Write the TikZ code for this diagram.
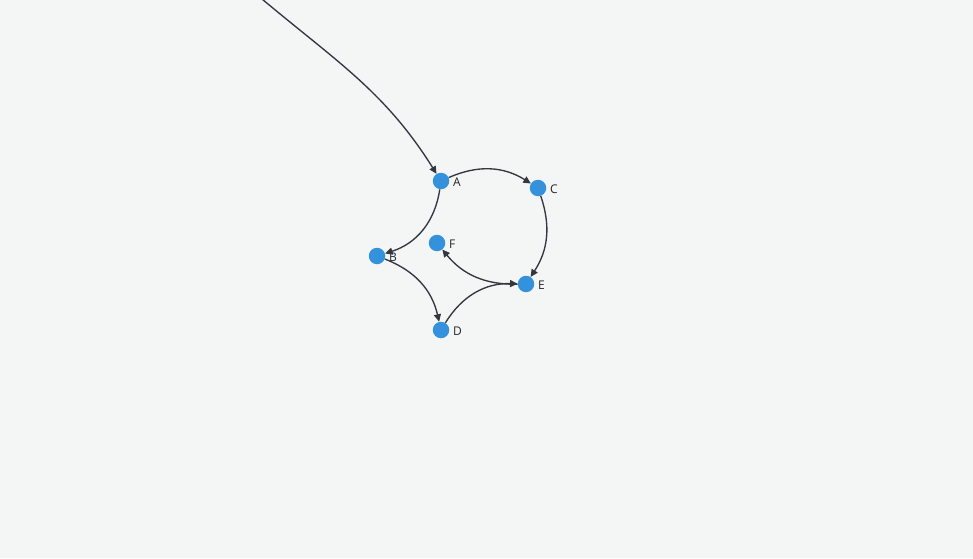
\documentclass[tikz,border=0pt]{standalone}
\usepackage{fontspec}
\setmainfont{Open Sans}
\usetikzlibrary{arrows.meta}
\definecolor{bgc}{RGB}{244,246,246}
\definecolor{nodec}{RGB}{52,146,220}
\definecolor{edgec}{RGB}{50,56,62}
\begin{document}
\begin{tikzpicture}[x=1pt,y=1pt,
  gnode/.style={circle,fill=nodec,draw=none,minimum size=16.5pt,inner sep=0pt},
  glabel/.style={font=\fontsize{12}{13}\selectfont,text=black!85,inner sep=0pt,label distance=3.5pt,yshift=-1.5pt},
  edge/.style={draw=edgec,line width=1.35pt,-{Triangle[length=7.5pt,width=7pt]}}]
\fill[bgc] (0,0) rectangle (973,558);
\useasboundingbox (0,0) rectangle (973,558);
\node[gnode,label={[glabel]right:A}] (A) at (441,377) {};
\node[gnode,label={[glabel]right:C}] (C) at (538,370) {};
\node[gnode,label={[glabel]right:B}] (B) at (377,302) {};
\node[gnode,label={[glabel]right:F}] (F) at (437,315) {};
\node[gnode,label={[glabel]right:E}] (E) at (526,274) {};
\node[gnode,label={[glabel]right:D}] (D) at (441,228) {};
\coordinate (S) at (262,559);
\draw[edge] (S) to[out=-40,in=122] (A);
\draw[edge] (A) to[bend left=28] (C);
\draw[edge] (C) to[bend left=26] (E);
\draw[edge] (A) to[bend left=32] (B);
\draw[edge] (B) to[bend left=28] (D);
\draw[edge] (D) to[bend left=30] (E);
\draw[edge] (E) to[bend left=26] (F);
\end{tikzpicture}
\end{document}
